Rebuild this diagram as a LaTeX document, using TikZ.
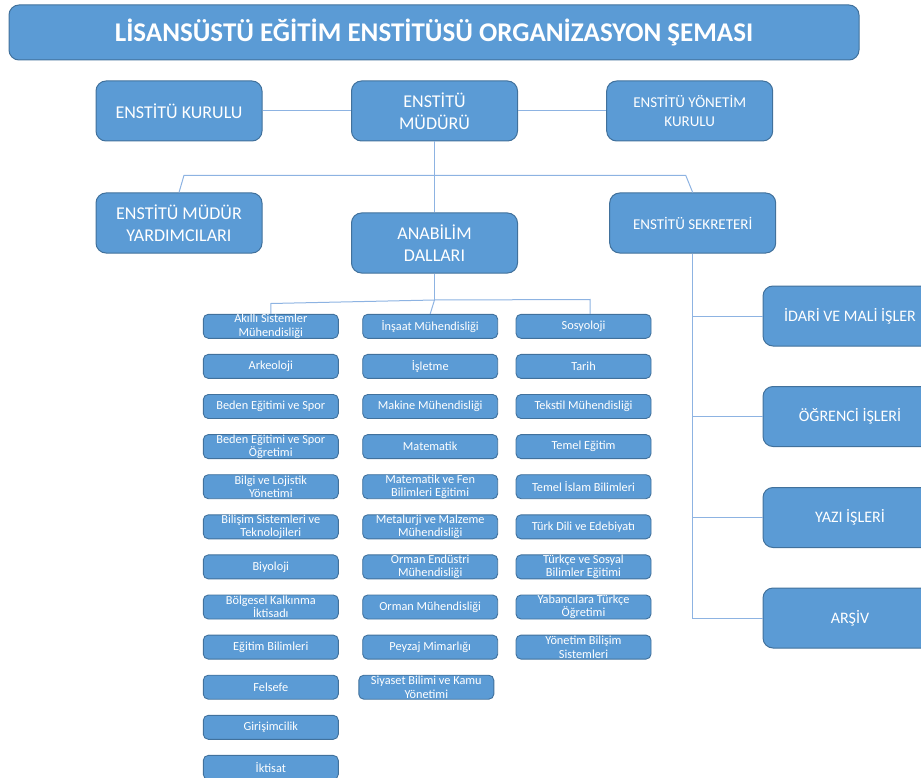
\documentclass[tikz,border=0pt]{standalone}
\usepackage{fontspec}
\setmainfont{Carlito}
\definecolor{boxfill}{HTML}{5B9BD5}
\definecolor{boxline}{HTML}{41719C}
\definecolor{conn}{HTML}{8DB3E2}
\begin{document}
\begin{tikzpicture}[x=1pt,y=-1pt,
  box/.style={draw=boxline, fill=boxfill, line width=1pt, text=white, align=center,
    inner xsep=0pt, inner ysep=-4pt, rounded corners=10pt},
  big/.style={box, minimum width=166pt, minimum height=60pt, font=\fontsize{18}{21.6}\selectfont},
  mid/.style={box, minimum width=166pt, minimum height=60pt, font=\fontsize{15}{18.3}\selectfont},
  side/.style={box, minimum width=174pt, minimum height=60pt, font=\fontsize{16}{19.5}\selectfont},
  small/.style={box, rounded corners=5pt, line width=0.9pt, minimum width=135pt,
    minimum height=24pt, font=\fontsize{12.3}{13.5}\selectfont},
  con/.style={draw=conn, line width=1pt}]
\useasboundingbox (0,0) rectangle (921,778);
\clip (0,0) rectangle (921,778);

% title
\node[box, minimum width=850pt, minimum height=55pt, font=\fontsize{27}{30}\selectfont\bfseries]
  (title) at (434,32.5) {LİSANSÜSTÜ EĞİTİM ENSTİTÜSÜ ORGANİZASYON ŞEMASI};

% upper boxes
\node[big] (kur) at (179,111) {ENSTİTÜ KURULU};
\node[big] (mud) at (434.5,111) {ENSTİTÜ\\MÜDÜRÜ};
\node[mid] (yon) at (689.7,111) {ENSTİTÜ YÖNETİM\\KURULU};
\node[big] (yard) at (179,223) {ENSTİTÜ MÜDÜR\\YARDIMCILARI};
\node[big] (ana) at (434.5,243) {ANABİLİM\\DALLARI};
\node[mid] (sek) at (692.7,223) {ENSTİTÜ SEKRETERİ};

% right boxes
\node[side] (r1) at (850,316) {İDARİ VE MALİ İŞLER};
\node[side] (r2) at (850,416.5) {ÖĞRENCİ İŞLERİ};
\node[side] (r3) at (850,517.5) {YAZI İŞLERİ};
\node[side] (r4) at (850,618) {ARŞİV};

% columns of departments
\foreach \t [count=\i] in {{Akıllı Sistemler\\Mühendisliği},{Arkeoloji},{Beden Eğitimi ve Spor},
  {Beden Eğitimi ve Spor\\Öğretimi},{Bilgi ve Lojistik\\Yönetimi},{Bilişim Sistemleri ve\\Teknolojileri},
  {Biyoloji},{Bölgesel Kalkınma\\İktisadı},{Eğitim Bilimleri},{Felsefe},{Girişimcilik},{İktisat}}
  \node[small] (a\i) at (270.8,{326.3+(\i-1)*40.1}) {\t};
\foreach \t [count=\i] in {{İnşaat Mühendisliği},{İşletme},{Makine Mühendisliği},{Matematik},
  {Matematik ve Fen\\Bilimleri Eğitimi},{Metalurji ve Malzeme\\Mühendisliği},{Orman Endüstri\\Mühendisliği},
  {Orman Mühendisliği},{Peyzaj Mimarlığı}}
  \node[small] (b\i) at (430.2,{326.3+(\i-1)*40.1}) {\t};
\node[small] (b10) at (426.3,{326.3+9*40.1}) {Siyaset Bilimi ve Kamu\\Yönetimi};
\foreach \t [count=\i] in {{Sosyoloji},{Tarih},{Tekstil Mühendisliği},{Temel Eğitim},
  {Temel İslam Bilimleri},{Türk Dili ve Edebiyatı},{Türkçe ve Sosyal\\Bilimler Eğitimi},
  {Yabancılara Türkçe\\Öğretimi},{Yönetim Bilişim\\Sistemleri}}
  \node[small] (c\i) at (583.5,{326.3+(\i-1)*40.1}) {\t};

% connectors
\draw[con] (kur.east) -- (mud.west);
\draw[con] (mud.east) -- (yon.west);
\draw[con] (mud.south) -- (ana.north);
\coordinate (bl) at (184,175.3);
\coordinate (br) at (685.7,175.3);
\draw[con] (yard.north) -- (bl) -- (br) -- (sek.north);

\draw[con] (sek.south) |- (r4.west);
\draw[con] (sek.south |- r1.west) -- (r1.west);
\draw[con] (sek.south |- r2.west) -- (r2.west);
\draw[con] (sek.south |- r3.west) -- (r3.west);

\coordinate (hub) at (434.5,300);
\coordinate (hl) at (270.8,303.5);
\coordinate (hr) at (590,299.5);
\draw[con] (ana.south) -- (hub);
\draw[con] (hub) -- (hl) -- (a1.north);
\draw[con] (hub) -- (b1.north);
\draw[con] (hub) -- (hr) -- (hr |- c1.north);
\end{tikzpicture}
\end{document}
